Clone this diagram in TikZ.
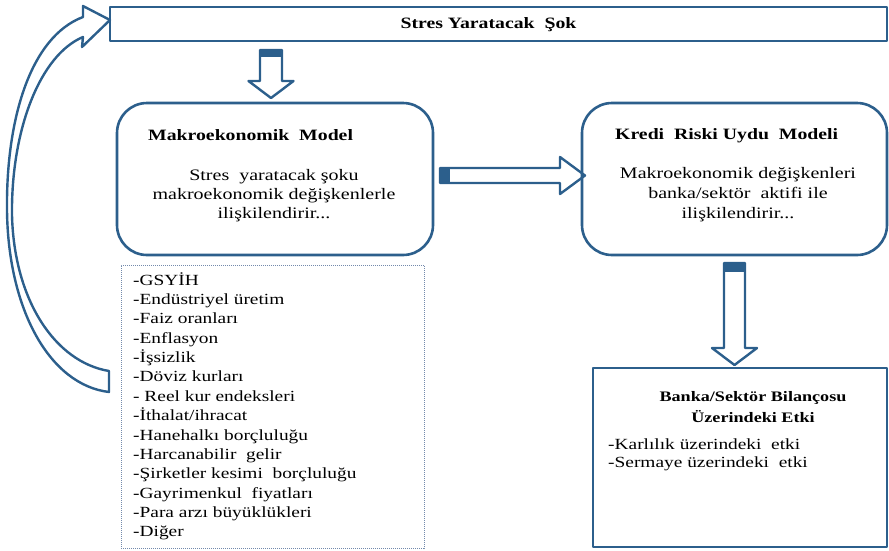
\documentclass[tikz,border=0pt]{standalone}
\usepackage{fontspec}
\setmainfont{Liberation Serif}[FakeStretch=1.25]
\definecolor{frame}{RGB}{44,95,140}
\definecolor{dotframe}{RGB}{115,138,172}

% hollow block arrow pointing down: cx, half shaft, half head, top, band bottom, shaft bottom, tip
\newcommand\blockdown[7]{%
  \fill[frame] ({#1-#2},#4) rectangle ({#1+#2},#5);
  \draw[blockline] ({#1-#2},#4) -- ({#1+#2},#4) -- ({#1+#2},#6) -- ({#1+#3},#6)
    -- (#1,#7) -- ({#1-#3},#6) -- ({#1-#2},#6) -- cycle;}
% hollow block arrow pointing right: cy, half shaft, half head, left, band right, shaft end, tip
\newcommand\blockright[7]{%
  \fill[frame] (#4,{#1-#2}) rectangle (#5,{#1+#2});
  \draw[blockline] (#4,{#1-#2}) -- (#6,{#1-#2}) -- (#6,{#1-#3}) -- (#7,#1)
    -- (#6,{#1+#3}) -- (#6,{#1+#2}) -- (#4,{#1+#2}) -- cycle;}

\begin{document}
\begin{tikzpicture}[x=1pt,y=-1pt,line join=round,
  box/.style={draw=frame,line width=2.6pt,fill=white,inner sep=0pt},
  roundbox/.style={box,rounded corners=30pt},
  blockline/.style={draw=frame,line width=2.4pt},
  titletext/.style={font=\bfseries\fontsize{15.8}{19}\selectfont,inner sep=0pt},
  bodytext/.style={font=\fontsize{16}{19}\selectfont,inner sep=0pt,anchor=base},
  listtext/.style={font=\fontsize{15.5}{19}\selectfont,inner sep=0pt,anchor=base west}]
\useasboundingbox (0,0) rectangle (889,550);

% boxes
\node[box,minimum width=777pt,minimum height=34pt] (shock) at (498.5,24) {};
\node[roundbox,minimum width=316pt,minimum height=152pt] (macro) at (275,179) {};
\node[roundbox,minimum width=305pt,minimum height=152pt] (credit) at (734.5,179) {};
\node[box,minimum width=294pt,minimum height=179pt] (bank) at (740,457.5) {};
\node[draw=dotframe,densely dotted,line width=1pt,inner sep=0pt,
      minimum width=303pt,minimum height=283pt] (vars) at (272.5,406.5) {};

% block arrows
\blockdown{271}{11}{22.5}{50}{57}{81}{98}
\blockright{175.5}{7.5}{18.5}{440}{450}{560}{585}
\blockdown{734.5}{10.5}{22.5}{263}{272}{348}{365}

% curved feedback arrow
\draw[blockline,fill=white] (109,392) -- (109,371)
  .. controls (55,362) and (14,300) .. (12,215)
  .. controls (11,130) and (40,55) .. (83,37)
  -- (82,47) -- (110,20) -- (83,6) -- (83,17)
  .. controls (30,37) and (6,120) .. (7,210)
  .. controls (8,310) and (50,385) .. (109,392) -- cycle;

% texts
\node[titletext,anchor=base] (shockT) at (488.5,28) {Stres Yaratacak\ \ Şok};

\node[titletext,anchor=base west] (macroT) at (148,140) {Makroekonomik\ \ Model};
\node[bodytext] (macro1) at (274,180) {Stres\ \ yaratacak şoku};
\node[bodytext] (macro2) at (274,199) {makroekonomik değişkenlerle};
\node[bodytext] (macro3) at (274,218) {ilişkilendirir...};

\node[titletext,anchor=base west] (creditT) at (615,139) {Kredi\ \ Riski Uydu\ \ Modeli};
\node[bodytext] (credit1) at (738,178) {Makroekonomik değişkenleri};
\node[bodytext] (credit2) at (738,198) {banka/sektör\ \ aktifi ile};
\node[bodytext] (credit3) at (738,218) {ilişkilendirir...};

\node[titletext,font=\bfseries\fontsize{14.5}{19}\selectfont,anchor=base] (bankT1) at (753,401) {Banka/Sektör Bilançosu};
\node[titletext,font=\bfseries\fontsize{14.5}{19}\selectfont,anchor=base] (bankT2) at (753,422) {Üzerindeki Etki};
\node[listtext] (bank1) at (608,449) {-Karlılık üzerindeki\ \ etki};
\node[listtext] (bank2) at (608,467) {-Sermaye üzerindeki\ \ etki};

\foreach \t [count=\i from 0] in {-GSYİH,-Endüstriyel üretim,-Faiz oranları,-Enflasyon,
  -İşsizlik,-Döviz kurları,- Reel kur endeksleri,-İthalat/ihracat,
  -Hanehalkı borçluluğu,-Harcanabilir\ \ gelir,-Şirketler kesimi\ \ borçluluğu,
  -Gayrimenkul\ \ fiyatları,-Para arzı büyüklükleri,-Diğer}
  \node[listtext] (var\i) at (133,{285+19.38*\i}) {\t};
\end{tikzpicture}
\end{document}
